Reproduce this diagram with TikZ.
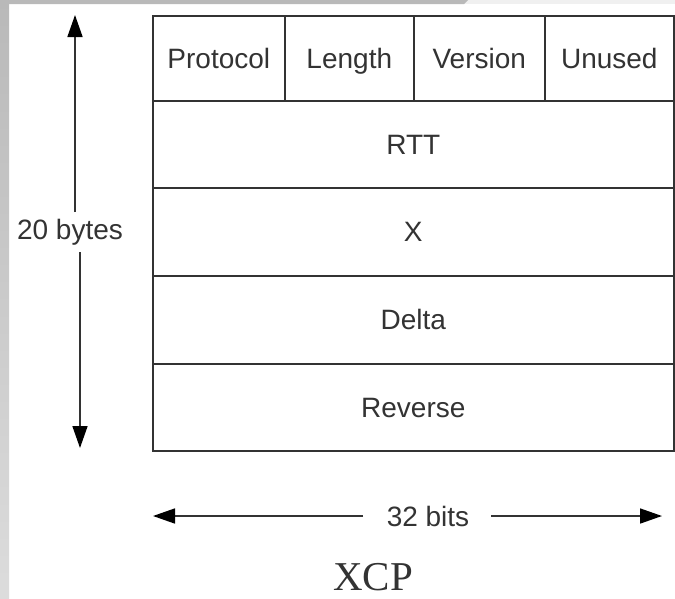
\documentclass[tikz,border=0pt]{standalone}
\usepackage{fontspec}
\setmainfont{Liberation Sans}
\newfontfamily\titlefont{Liberation Serif}
\usetikzlibrary{arrows.meta}
\definecolor{ink}{HTML}{333333}
\definecolor{bandgray}{HTML}{B9B9B9}
\definecolor{bandlight}{HTML}{F0F0F0}
\definecolor{sidelow}{HTML}{DCDCDC}
\tikzset{
  field/.style={draw=ink, line width=1.6pt, inner sep=0pt, text height=24pt, text depth=4pt,
    font=\fontsize{28}{32}\selectfont, text=ink},
  dimline/.style={draw=ink, line width=1.6pt},
  tip/.style={-{Triangle[length=22pt, width=15pt, color=black]}},
  dimlabel/.style={font=\fontsize{28}{32}\selectfont, text=ink, inner sep=0pt}
}
\begin{document}
\begin{tikzpicture}[x=1pt, y=-1pt]
  \useasboundingbox (0,0) rectangle (675,598);
  \fill[white] (0,0) rectangle (675,598);
  % frame strips
  \fill[bandlight] (0,0) rectangle (675,4);
  \fill[bandgray] (0,0) -- (468,0) -- (464,4) -- (0,4) -- cycle;
  \shade[top color=bandgray, bottom color=sidelow] (0,0) rectangle (9,598);

  % header row
  \node[field, minimum width=132pt, minimum height=85pt, anchor=north west] (proto) at (152,15) {Protocol};
  \node[field, minimum width=129pt, minimum height=85pt, anchor=north west] (len) at (284,15) {Length};
  \node[field, minimum width=131pt, minimum height=85pt, anchor=north west] (ver) at (413,15) {Version};
  \node[field, minimum width=129pt, minimum height=85pt, anchor=north west] (unused) at (544,15) {Unused};
  % full-width rows
  \node[field, minimum width=521pt, minimum height=87pt, anchor=north west] (rtt) at (152,100) {RTT};
  \node[field, minimum width=521pt, minimum height=88pt, anchor=north west] (xf) at (152,187) {X};
  \node[field, minimum width=521pt, minimum height=88pt, anchor=north west] (delta) at (152,275) {Delta};
  \node[field, minimum width=521pt, minimum height=87pt, anchor=north west] (rev) at (152,363) {Reverse};

  % vertical dimension
  \node[dimlabel] (bytes) at (70,232) {20 bytes};
  \coordinate (vtop) at (75,15);
  \coordinate (vbot) at (80,448);
  \draw[dimline, tip] (75,212) -- (vtop);
  \draw[dimline, tip] (80,252) -- (vbot);

  % horizontal dimension
  \node[dimlabel] (bits) at (428,516) {32 bits};
  \coordinate (hleft) at (153,516);
  \coordinate (hright) at (662,516);
  \draw[dimline, tip] (363,516) -- (hleft);
  \draw[dimline, tip] (491,516) -- (hright);

  % caption
  \node[font=\titlefont\fontsize{41}{44}\selectfont, text=ink, anchor=base, inner sep=0pt] (title) at (373,590) {XCP};
\end{tikzpicture}
\end{document}
